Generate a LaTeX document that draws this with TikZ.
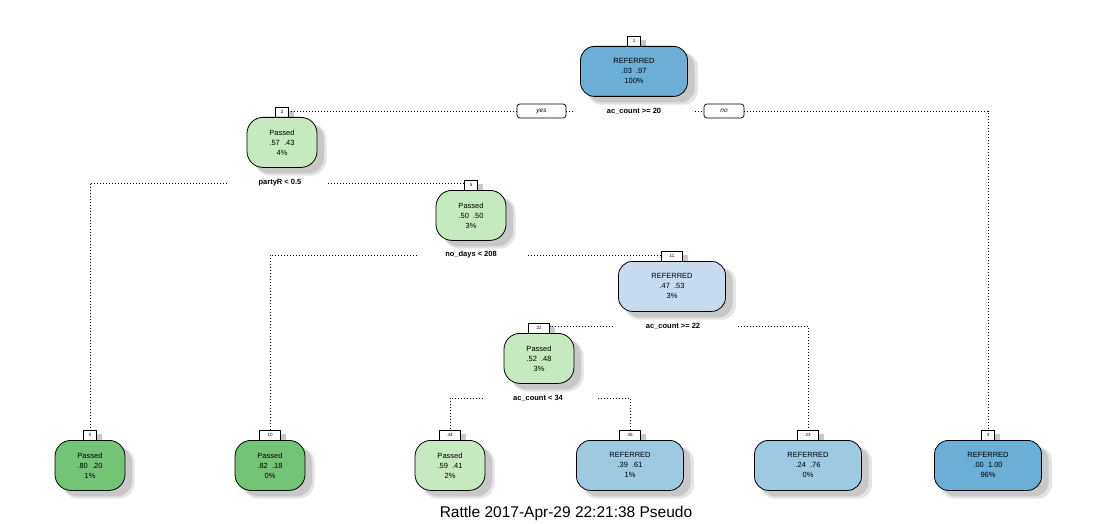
\documentclass[tikz,border=0pt]{standalone}
\usepackage{fontspec}
\setmainfont{Liberation Sans}
\usetikzlibrary{shadows}
\definecolor{refdark}{HTML}{6BAED6}
\definecolor{refmid}{HTML}{9ECAE1}
\definecolor{reflight}{HTML}{C6DBEF}
\definecolor{paslight}{HTML}{C7E9C0}
\definecolor{pasdark}{HTML}{74C476}
\definecolor{shad}{HTML}{C8C8C8}
\definecolor{shadsoft}{HTML}{E4E4E4}
\tikzset{
  tnode/.style={draw=black, line width=0.8pt, minimum height=50pt,
    align=center, inner sep=0pt, font=\fontsize{7.5}{10}\selectfont,
    drop shadow={shadow xshift=8pt, shadow yshift=-7pt, shadow scale=1.04, fill=shadsoft, opacity=1},
    drop shadow={shadow xshift=7pt, shadow yshift=-6pt, fill=shad, opacity=1}},
  refbox/.style={tnode, rounded corners=14pt, minimum width=107pt},
  pasbox/.style={tnode, rounded corners=16pt, minimum width=70pt},
  lbl/.style={draw=black, line width=0.6pt, fill=white, minimum width=13pt, minimum height=10pt,
    inner sep=0pt, font=\fontsize{4.5}{5}\selectfont,
    drop shadow={shadow xshift=5pt, shadow yshift=-4pt, fill=shad, opacity=1}},
  lblw/.style={lbl, minimum width=21pt},
  splitlbl/.style={font=\fontsize{7.5}{9}\bfseries\selectfont, inner sep=0pt},
  yn/.style={draw=black, line width=0.7pt, fill=white, rounded corners=3pt, minimum height=14pt,
    inner sep=0pt, font=\fontsize{6.5}{8}\itshape\selectfont},
  dots/.style={line width=0.8pt, dash pattern=on 0.8pt off 2.2pt},
}
\newcommand\treenode[7]{%
  \node[#3, anchor=south] (l#1) at (#4,#5+0.5) {#6};
  \node[#2, anchor=north] (n#1) at (#4,#5) {#7};
}
\begin{document}
\begin{tikzpicture}[x=1pt,y=-1pt]
\fill[white] (0,0) rectangle (1097,524);
\useasboundingbox (0,0) rectangle (1097,524);

% nodes
\treenode{1}{refbox, fill=refdark}{lbl}{634}{46}{1}{REFERRED\\.03\ \ .97\\100\%}
\treenode{2}{pasbox, fill=paslight}{lbl}{282}{117}{2}{Passed\\.57\ \ .43\\4\%}
\treenode{5}{pasbox, fill=paslight}{lbl}{471}{190}{5}{Passed\\.50\ \ .50\\3\%}
\treenode{11}{refbox, fill=reflight}{lblw}{672}{261}{11}{REFERRED\\.47\ \ .53\\3\%}
\treenode{22}{pasbox, fill=paslight}{lblw}{539}{333}{22}{Passed\\.52\ \ .48\\3\%}
\treenode{4}{pasbox, fill=pasdark}{lbl}{90}{440}{4}{Passed\\.80\ \ .20\\1\%}
\treenode{10}{pasbox, fill=pasdark}{lblw}{270}{440}{10}{Passed\\.82\ \ .18\\0\%}
\treenode{44}{pasbox, fill=paslight}{lblw}{450}{440}{44}{Passed\\.59\ \ .41\\2\%}
\treenode{45}{refbox, fill=refmid}{lblw}{630}{440}{45}{REFERRED\\.39\ \ .61\\1\%}
\treenode{23}{refbox, fill=refmid}{lblw}{808}{440}{23}{REFERRED\\.24\ \ .76\\0\%}
\treenode{3}{refbox, fill=refdark}{lbl}{988}{440}{3}{REFERRED\\.00\ \ 1.00\\96\%}

% split labels
\node[splitlbl] (s1) at (634,111) {ac\_count >= 20};
\node[splitlbl] (s2) at (280,183) {partyR < 0.5};
\node[splitlbl] (s5) at (471,255) {no\_days < 208};
\node[splitlbl] (s11) at (673,326) {ac\_count >= 22};
\node[splitlbl] (s22) at (538,398) {ac\_count < 34};

\node[yn, minimum width=49pt] (yes) at (541.5,111) {yes};
\node[yn, minimum width=40pt] (no) at (724,111) {no};

% connector end points
\coordinate (y1) at (575,111);
\coordinate (n1s) at (695,111);
\coordinate (c2l) at (227,183);
\coordinate (c2r) at (328,183);
\coordinate (c5l) at (417,255);
\coordinate (c5r) at (528,255);
\coordinate (c11l) at (613,326);
\coordinate (c11r) at (738,326);
\coordinate (c22l) at (483,398);
\coordinate (c22r) at (598,398);

% connectors
\draw[dots] (yes.east) -- (y1);
\draw[dots] (yes.west) -- (yes.west -| l2.east);
\draw[dots] (n1s) -- (no.west);
\draw[dots] (no.east) -| (l3.north);
\draw[dots] (c2l) -| (l4.north);
\draw[dots] (c2r) -- (c2r -| l5.west);
\draw[dots] (c5l) -| (l10.north);
\draw[dots] (c5r) -- (c5r -| l11.west);
\draw[dots] (c11l) -- (c11l -| l22.east);
\draw[dots] (c11r) -| (l23.north);
\draw[dots] (c22l) -| (l44.north);
\draw[dots] (c22r) -| (l45.north);

% caption
\node[font=\fontsize{15.5}{18}\selectfont, inner sep=0pt] (cap) at (566,513) {Rattle 2017-Apr-29 22:21:38 Pseudo};
\end{tikzpicture}
\end{document}
